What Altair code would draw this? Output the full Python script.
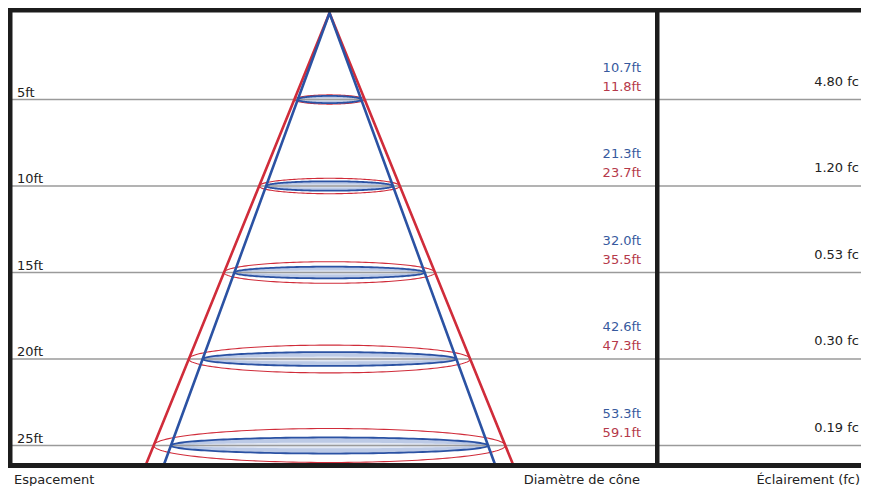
import altair as alt
import numpy as np
import pandas as pd

# ---- data ----
SPACING_FT = [5, 10, 15, 20, 25]
SPACING_LABELS = ["5ft", "10ft", "15ft", "20ft", "25ft"]
DIAM_BLUE_FT = [10.7, 21.3, 32.0, 42.6, 53.3]
DIAM_RED_FT = [11.8, 23.7, 35.5, 47.3, 59.1]
ILLUM_FC = [4.80, 1.20, 0.53, 0.30, 0.19]
COLUMN_TITLES = ["Espacement", "Diamètre de cône", "Éclairement (fc)"]

# ---- layout / style ----
W, H = 853, 478
PX_X = 5.95      # px per ft of diameter (horizontal)
PX_Y = 17.3      # px per ft of spacing (vertical)
CX = 321.5       # cone axis, plot px
Y0 = 5.0         # apex, plot px
FRAME_BOTTOM_PX = 457.5
CONE_DEPTH = (FRAME_BOTTOM_PX - Y0) / PX_Y

BLUE = "#2b52a3"
RED = "#d02c3a"
BLUE_TXT = "#375a9e"
RED_TXT = "#b5394a"
BLUE_FILL = "#bccae6"
BLUE_CORE = "#e2e8f4"
GRAY = "#9a9a9a"
INK = "#1c1c1c"
TXT = "#222222"
FONT = "DejaVu Sans"
FS = 13

xs = alt.Scale(domain=[-CX / PX_X, (W - CX) / PX_X], nice=False, zero=False)
ys = alt.Scale(domain=[-Y0 / PX_Y, (H - Y0) / PX_Y], nice=False, zero=False, reverse=True)

levels = pd.DataFrame({
    "ft": SPACING_FT,
    "label": SPACING_LABELS,
    "blue": [f"{v:.1f}ft" for v in DIAM_BLUE_FT],
    "red": [f"{v:.1f}ft" for v in DIAM_RED_FT],
    "fc": [f"{v:.2f} fc" for v in ILLUM_FC],
})

# ellipses (one per level and colour)
rows = []
t = np.linspace(0, np.pi, 91)
for col, diams, base, k in (("blue", DIAM_BLUE_FT, 2.5, 0.035),
                            ("core", DIAM_BLUE_FT, 0.8, 0.014),
                            ("red", DIAM_RED_FT, 1.5, 0.088)):
    for lvl, d in zip(SPACING_FT, diams):
        a_ft = d / 2.0 * (0.9 if col == "core" else 1.0)
        b_ft = (base + k * a_ft * PX_X) / PX_Y
        for ti in t:
            rows.append({
                "eid": f"{col}{lvl}", "col": col,
                "x": a_ft * np.cos(ti),
                "y1": lvl - b_ft * np.sin(ti),
                "y2": lvl + b_ft * np.sin(ti),
            })
ell = pd.DataFrame(rows)
ell_b = ell[ell.col == "blue"]
ell_c = ell[ell.col == "core"]
ell_r = ell[ell.col == "red"]

# cone outlines, slope from the 25 ft diameters
def cone(diams):
    half = diams[-1] / SPACING_FT[-1] * CONE_DEPTH / 2.0
    return pd.DataFrame({"x": [-half, 0.0, half], "y": [CONE_DEPTH, 0.0, CONE_DEPTH], "k": [0, 1, 2]})

cone_b = cone(DIAM_BLUE_FT)
cone_r = cone(DIAM_RED_FT)

X = lambda f: alt.X(f, type="quantitative", scale=xs, axis=None)
Y = lambda f: alt.Y(f, type="quantitative", scale=ys, axis=None)

fill_b = alt.Chart(ell_b).mark_area(color=BLUE_FILL).encode(
    x=X("x"), y=Y("y1"), y2="y2", detail="eid:N")
fill_c = alt.Chart(ell_c).mark_area(color=BLUE_CORE).encode(
    x=X("x"), y=Y("y1"), y2="y2", detail="eid:N")
rules = alt.Chart(levels).mark_rule(color=GRAY, strokeWidth=1.6).encode(
    y=Y("ft"), x=alt.value(0), x2=alt.value(W))
out_r = alt.Chart(ell_r).mark_area(fillOpacity=0, stroke=RED, strokeWidth=1.1).encode(
    x=X("x"), y=Y("y1"), y2="y2", detail="eid:N")
out_b = alt.Chart(ell_b).mark_area(fillOpacity=0, stroke=BLUE, strokeWidth=1.8).encode(
    x=X("x"), y=Y("y1"), y2="y2", detail="eid:N")
line_r = alt.Chart(cone_r).mark_line(color=RED, strokeWidth=2.6).encode(
    x=X("x"), y=Y("y"), order="k:Q")
line_b = alt.Chart(cone_b).mark_line(color=BLUE, strokeWidth=2.6).encode(
    x=X("x"), y=Y("y"), order="k:Q")

dummy = pd.DataFrame({"a": [0]})

def bar(x1, x2, y1, y2):
    return alt.Chart(dummy).mark_rect(color=INK).encode(
        x=alt.value(x1), x2=alt.value(x2), y=alt.value(y1), y2=alt.value(y2))

frame = [
    bar(0, W, 0, 4.5),
    bar(0, W, 455, 460),
    bar(0, 4.5, 0, 460),
    bar(647, 651.5, 0, 460),
]

lvl_txt = alt.Chart(levels).mark_text(align="left", baseline="alphabetic", dy=-3,
                                      font=FONT, fontSize=FS, color=TXT).encode(
    x=alt.value(9), y=Y("ft"), text="label:N")
blue_txt = alt.Chart(levels).mark_text(align="right", baseline="alphabetic", dy=-28,
                                       font=FONT, fontSize=FS, color=BLUE_TXT).encode(
    x=alt.value(633), y=Y("ft"), text="blue:N")
red_txt = alt.Chart(levels).mark_text(align="right", baseline="alphabetic", dy=-9,
                                      font=FONT, fontSize=FS, color=RED_TXT).encode(
    x=alt.value(633), y=Y("ft"), text="red:N")
fc_txt = alt.Chart(levels).mark_text(align="right", baseline="alphabetic", dy=-14,
                                     font=FONT, fontSize=FS, color=TXT).encode(
    x=alt.value(851), y=Y("ft"), text="fc:N")

def title(txt, x, align):
    return alt.Chart(dummy).mark_text(text=txt, align=align, baseline="alphabetic",
                                      font=FONT, fontSize=FS, color=TXT).encode(
        x=alt.value(x), y=alt.value(476))

titles = [
    title(COLUMN_TITLES[0], 6, "left"),
    title(COLUMN_TITLES[1], 632, "right"),
    title(COLUMN_TITLES[2], 852, "right"),
]

chart = alt.layer(
    fill_b, fill_c, rules, out_r, out_b, line_r, line_b, *frame,
    lvl_txt, blue_txt, red_txt, fc_txt, *titles
).properties(
    width=W, height=H, padding=0,
    autosize=alt.AutoSizeParams(type="none"),
    background="white",
).configure_view(strokeWidth=0)

chart.save("out.html", embed_options={"renderer": "svg", "actions": False})
